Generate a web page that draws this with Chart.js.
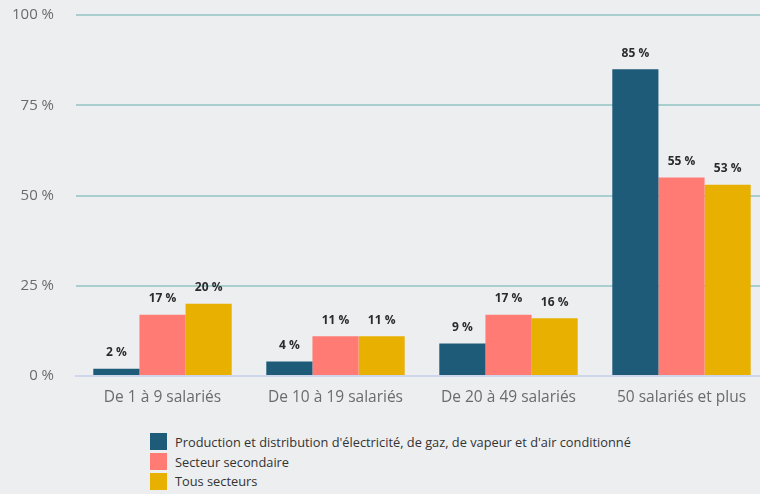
<!DOCTYPE html>
<html lang="fr">
<head>
<meta charset="utf-8">
<script src="https://cdn.jsdelivr.net/npm/chart.js@4"></script>
<style>
  html, body { margin: 0; padding: 0; background: #eceef0; overflow: hidden; }
  #wrap { position: relative; width: 760px; height: 494px; overflow: hidden; }
  #box { position: absolute; left: 0; top: -16px; width: 768px; height: 436px; }
  #legend { position: absolute; left: 150px; top: 432px; font-family: 'Open Sans', sans-serif; font-size: 12.8px; color: #333; }
  #legend div { display: flex; align-items: center; height: 19.7px; white-space: nowrap; }
  #legend span { display: inline-block; width: 17px; height: 17px; margin-right: 8px; }
</style>
</head>
<body>
<div id="wrap">
  <div id="box"><canvas id="myChart"></canvas></div>
  <div id="legend"></div>
</div>
<script>
var categories = ['De 1 à 9 salariés', 'De 10 à 19 salariés', 'De 20 à 49 salariés', '50 salariés et plus'];
var seriesNames = ["Production et distribution d'électricité, de gaz, de vapeur et d'air conditionné", 'Secteur secondaire', 'Tous secteurs'];
var energie = [2, 4, 9, 85];
var secondaire = [17, 11, 17, 55];
var tousSecteurs = [20, 11, 16, 53];
var yTicks = [0, 25, 50, 75, 100];
var colors = ['#1e5b78', '#ff7b74', '#e8b000'];

// value labels above each bar
var barLabels = {
  id: 'barLabels',
  afterDatasetsDraw: function(chart) {
    var ctx = chart.ctx;
    ctx.save();
    ctx.font = 'bold 12px "Open Sans", sans-serif';
    ctx.fillStyle = '#2b2b2b';
    ctx.textAlign = 'center';
    ctx.textBaseline = 'middle';
    chart.data.datasets.forEach(function(ds, i) {
      chart.getDatasetMeta(i).data.forEach(function(bar, j) {
        ctx.fillText(ds.data[j] + ' %', bar.x, bar.y - 16);
      });
    });
    ctx.restore();
  }
};

var ctx = document.getElementById('myChart').getContext('2d');
var chart = new Chart(ctx, {
  type: 'bar',
  data: {
    labels: categories,
    datasets: [
      { label: seriesNames[0], data: energie, backgroundColor: colors[0] },
      { label: seriesNames[1], data: secondaire, backgroundColor: colors[1] },
      { label: seriesNames[2], data: tousSecteurs, backgroundColor: colors[2] }
    ]
  },
  options: {
    responsive: true,
    maintainAspectRatio: false,
    animation: false,
    layout: { padding: 0 },
    datasets: { bar: { categoryPercentage: 0.80, barPercentage: 1 } },
    plugins: {
      legend: { display: false },
      tooltip: { enabled: false }
    },
    scales: {
      x: {
        grid: { display: false, drawTicks: false },
        border: { display: true, color: '#cdd6ea', width: 2 },
        ticks: { color: '#6b6b6b', padding: 12, font: { family: 'Open Sans', size: 15.5 } },
        afterFit: function(scale) { scale.height = 44; }
      },
      y: {
        min: 0,
        max: 100,
        afterBuildTicks: function(scale) {
          scale.ticks = yTicks.map(function(v) { return { value: v }; });
        },
        grid: {
          drawTicks: false,
          color: function(c) { return c.tick.value === 0 ? 'rgba(0,0,0,0)' : '#a9cece'; },
          lineWidth: 2
        },
        border: { display: false },
        ticks: {
          color: '#6b6b6b',
          padding: 22,
          font: { family: 'Open Sans', size: 15 },
          callback: function(v) { return v + ' %'; }
        },
        afterFit: function(scale) { scale.width = 76; }
      }
    }
  },
  plugins: [barLabels]
});

// legend as a vertical list
var legend = document.getElementById('legend');
chart.data.datasets.forEach(function(ds) {
  var row = document.createElement('div');
  var sw = document.createElement('span');
  sw.style.background = ds.backgroundColor;
  row.appendChild(sw);
  row.appendChild(document.createTextNode(ds.label));
  legend.appendChild(row);
});
</script>
</body>
</html>
